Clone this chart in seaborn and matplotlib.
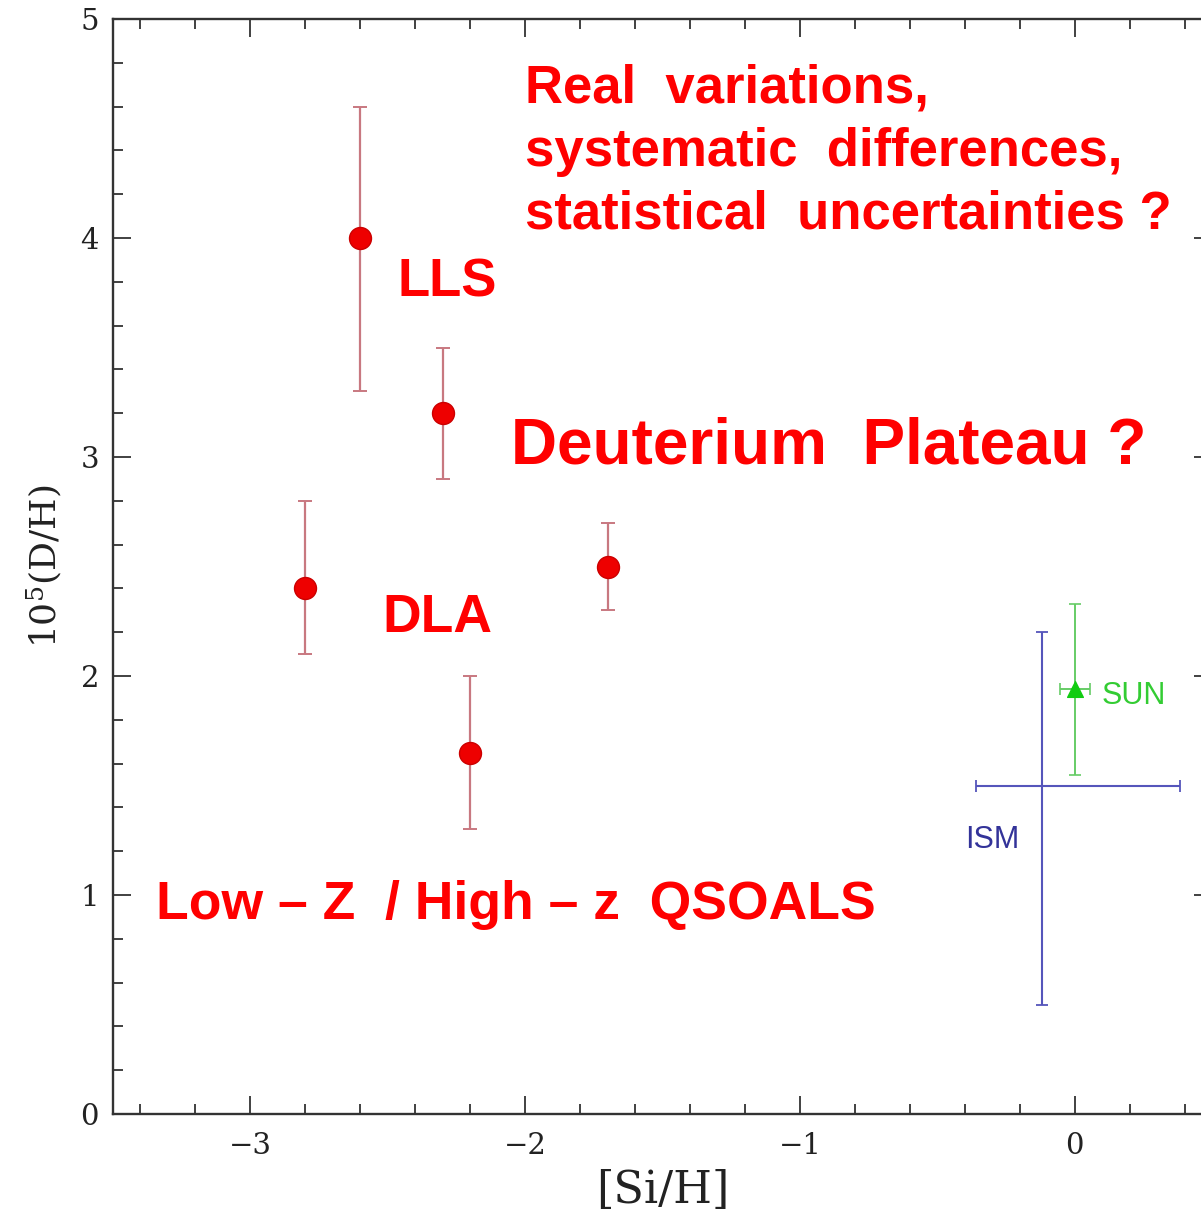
import matplotlib
matplotlib.use("Agg")
import matplotlib.pyplot as plt
import seaborn as sns
import pandas as pd
from matplotlib.ticker import MultipleLocator

# ---- data ----
qso_x = [-2.6, -2.3, -2.8, -1.7, -2.2]
qso_y = [4.0, 3.2, 2.4, 2.5, 1.65]
qso_lo = [3.3, 2.9, 2.1, 2.3, 1.3]
qso_hi = [4.6, 3.5, 2.8, 2.7, 2.0]

sun_x = [0.0]
sun_y = [1.94]
sun_lo = [1.55]
sun_hi = [2.33]
sun_xerr = [0.055]

ism_x = [-0.12]
ism_y = [1.5]
ism_xlo = [-0.36]
ism_xhi = [0.385]
ism_lo = [0.5]
ism_hi = [2.2]

x_ticks = [-3, -2, -1, 0]
y_ticks = [0, 1, 2, 3, 4, 5]

sns.set_theme(style="ticks")
plt.rcParams['font.family'] = ['DejaVu Serif']
plt.rcParams['mathtext.fontset'] = 'dejavuserif'

fig = plt.figure(figsize=(12.01, 12.17), dpi=100)
ax = fig.add_axes([113/1201, 103/1217, 1099/1201, 1095/1217])

df = pd.DataFrame({"x": qso_x, "y": qso_y})
err_lo = [y - l for y, l in zip(qso_y, qso_lo)]
err_hi = [h - y for y, h in zip(qso_y, qso_hi)]
ax.errorbar(qso_x, qso_y, yerr=[err_lo, err_hi], fmt='none', ecolor='#c87880',
            elinewidth=1.6, capsize=5, capthick=1.4, zorder=2)
sns.scatterplot(data=df, x="x", y="y", ax=ax, color='#ee0000', s=250,
                edgecolor='#cc0000', linewidth=1, zorder=3, legend=False)

# SUN
ax.errorbar(sun_x, sun_y,
            yerr=[[sun_y[0]-sun_lo[0]], [sun_hi[0]-sun_y[0]]],
            xerr=[sun_xerr, sun_xerr], fmt='none', ecolor='#66cc66',
            elinewidth=1.4, capsize=4, capthick=1.2, zorder=2)
sdf = pd.DataFrame({"x": sun_x, "y": sun_y})
sns.scatterplot(data=sdf, x="x", y="y", ax=ax, marker='^', color='#11cc11',
                s=130, edgecolor='#11cc11', zorder=3, legend=False)

# ISM
ax.errorbar(ism_x, ism_y,
            yerr=[[ism_y[0]-ism_lo[0]], [ism_hi[0]-ism_y[0]]],
            xerr=[[ism_x[0]-ism_xlo[0]], [ism_xhi[0]-ism_x[0]]],
            fmt='none', ecolor='#5555bb', elinewidth=1.5, capsize=4,
            capthick=1.3, zorder=2)

ax.set_xlim(-3.5, 0.5)
ax.set_ylim(0, 5)
ax.xaxis.set_minor_locator(MultipleLocator(0.2))
ax.yaxis.set_minor_locator(MultipleLocator(0.2))
ax.set_xticks(x_ticks)
ax.set_yticks(y_ticks)
ax.set_xticklabels(["\u2212" + str(abs(t)) if t < 0 else str(t) for t in x_ticks])
ax.set_yticklabels([str(t) for t in y_ticks])
ax.tick_params(which='both', direction='in', top=True, right=True,
               color='#333333', labelcolor='#222222')
ax.tick_params(which='major', length=13, width=1.3, labelsize=21, pad=10)
ax.tick_params(which='minor', length=7, width=1.3)
ax.tick_params(axis='x', which='major', pad=13)
for sp in ax.spines.values():
    sp.set_linewidth(1.7)
    sp.set_color('#333333')

ax.set_xlabel("[Si/H]", fontsize=32, color='#222222', labelpad=6)
ax.set_ylabel("10$^5$(D/H)", fontsize=26, color='#222222', labelpad=12)

red_font = ['Liberation Sans', 'DejaVu Sans']
ax.text(-2.0, 4.62, "Real  variations,", color='#ff0000', fontsize=38,
        fontweight='bold', family=red_font, va='baseline', ha='left')
ax.text(-2.0, 4.33, "systematic  differences,", color='#ff0000', fontsize=38,
        fontweight='bold', family=red_font, va='baseline', ha='left')
ax.text(-2.0, 4.045, "statistical  uncertainties ?", color='#ff0000', fontsize=38,
        fontweight='bold', family=red_font, va='baseline', ha='left')
ax.text(-2.05, 2.97, "Deuterium  Plateau ?", color='#ff0000', fontsize=46,
        fontweight='bold', family=red_font, va='baseline', ha='left')
ax.text(-2.465, 3.735, "LLS", color='#ff0000', fontsize=38,
        fontweight='bold', family=red_font, va='baseline', ha='left')
ax.text(-2.52, 2.20, "DLA", color='#ff0000', fontsize=38.5,
        fontweight='bold', family=red_font, va='baseline', ha='left')
ax.text(-3.344, 0.89, "Low \u2013 Z  / High \u2013 z  QSOALS", color='#ff0000',
        fontsize=38.5, fontweight='bold', family=red_font, va='baseline', ha='left')
ax.text(0.10, 1.91, "SUN", color='#33cc33', fontsize=22,
        family=['Liberation Sans', 'DejaVu Sans'], va='center', ha='left')
ax.text(-0.40, 1.25, "ISM", color='#333399', fontsize=22,
        family=['Liberation Sans', 'DejaVu Sans'], va='center', ha='left')

fig.savefig("out.png", dpi=100)
